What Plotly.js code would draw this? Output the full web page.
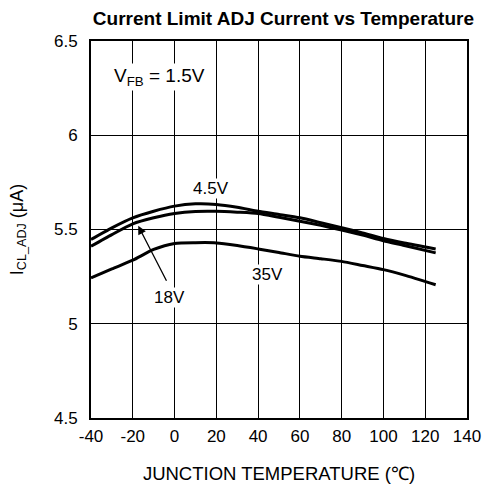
<!DOCTYPE html>
<html>
<head>
<meta charset="utf-8">
<script src="https://cdn.plot.ly/plotly-3.0.1.min.js"></script>
<style>html,body{margin:0;padding:0;background:#fff;}#chart{width:487px;height:485px;}</style>
</head>
<body>
<div id="chart"></div>
<script>
const temps = [-40,-30,-20,-10,0,10,20,30,40,50,60,70,80,90,100,110,125];
const v45 = [5.447,5.509,5.562,5.597,5.624,5.636,5.633,5.618,5.597,5.580,5.562,5.536,5.509,5.482,5.452,5.428,5.397];
const v18 = [5.411,5.473,5.530,5.562,5.585,5.596,5.597,5.592,5.585,5.565,5.544,5.522,5.497,5.470,5.440,5.415,5.376];
const v35 = [5.243,5.291,5.337,5.394,5.426,5.430,5.429,5.415,5.397,5.378,5.358,5.345,5.331,5.309,5.287,5.258,5.207];
const seriesNames = ['4.5V','18V','35V'];
const xTicks = [-40,-20,0,20,40,60,80,100,120,140];
const yTicks = [4.5,5,5.5,6,6.5];
const yTickText = ['4.5','5','5.5','6','6.5'];

const F = 'Liberation Sans, Arial, sans-serif';
const mk = (y, name) => ({x: temps, y: y, name: name, type: 'scatter', mode: 'lines',
  line: {color: '#000', width: 3, shape: 'spline', smoothing: 0.6}, hoverinfo: 'skip'});
const data = [mk(v45, seriesNames[0]), mk(v18, seriesNames[1]), mk(v35, seriesNames[2])];

const layout = {
  width: 487, height: 485,
  margin: {l: 91, r: 20, t: 41, b: 67},
  paper_bgcolor: '#fff', plot_bgcolor: '#fff',
  showlegend: false,
  font: {family: F, color: '#000', size: 16},
  title: {text: '<b>Current Limit ADJ Current vs Temperature</b>', x: 0.582, xanchor: 'center', y: 0.962, yanchor: 'middle',
    font: {family: F, size: 19, color: '#000'}},
  xaxis: {range: [-40, 140], tickvals: xTicks, ticktext: xTicks.map(String), showgrid: true, gridcolor: '#000', gridwidth: 1,
    zeroline: false, showline: true, linecolor: '#000', linewidth: 2, mirror: true, ticks: 'outside', ticklen: 2, tickcolor: 'rgba(0,0,0,0)',
    tickfont: {family: F, size: 17}, title: {text: 'JUNCTION TEMPERATURE (℃)', font: {family: F, size: 18.5}, standoff: 22}},
  yaxis: {range: [4.5, 6.5], tickvals: yTicks, ticktext: yTickText, showgrid: true, gridcolor: '#000', gridwidth: 1,
    zeroline: false, showline: true, linecolor: '#000', linewidth: 2, mirror: true, ticks: 'outside', ticklen: 8, tickcolor: 'rgba(0,0,0,0)',
    tickfont: {family: F, size: 17}, title: {text: 'I<sub>CL_ADJ</sub> (μA)', font: {family: F, size: 18}, standoff: 26}},
  annotations: [
    {x: -7.4, y: 6.31, xref: 'x', yref: 'y', text: 'V<sub>FB</sub> = 1.5V', showarrow: false, bgcolor: '#fff', borderpad: 1, font: {family: F, size: 19}},
    {x: 17.6, y: 5.72, xref: 'x', yref: 'y', text: seriesNames[0], showarrow: false, bgcolor: '#fff', borderpad: 0, font: {family: F, size: 17}},
    {x: 44.5, y: 5.26, xref: 'x', yref: 'y', text: seriesNames[2], showarrow: false, bgcolor: '#fff', borderpad: 0, font: {family: F, size: 17}},
    {x: -2.6, y: 5.14, xref: 'x', yref: 'y', text: seriesNames[1], showarrow: false, bgcolor: '#fff', borderpad: 0, font: {family: F, size: 17}},
    {x: -17.4, y: 5.52, xref: 'x', yref: 'y', ax: -3.5, ay: 5.22, axref: 'x', ayref: 'y', text: '', showarrow: true,
      arrowhead: 2, arrowsize: 1.3, arrowwidth: 1.3, arrowcolor: '#000'}
  ]
};
Plotly.newPlot('chart', data, layout, {staticPlot: true, displayModeBar: false});
</script>
</body>
</html>
